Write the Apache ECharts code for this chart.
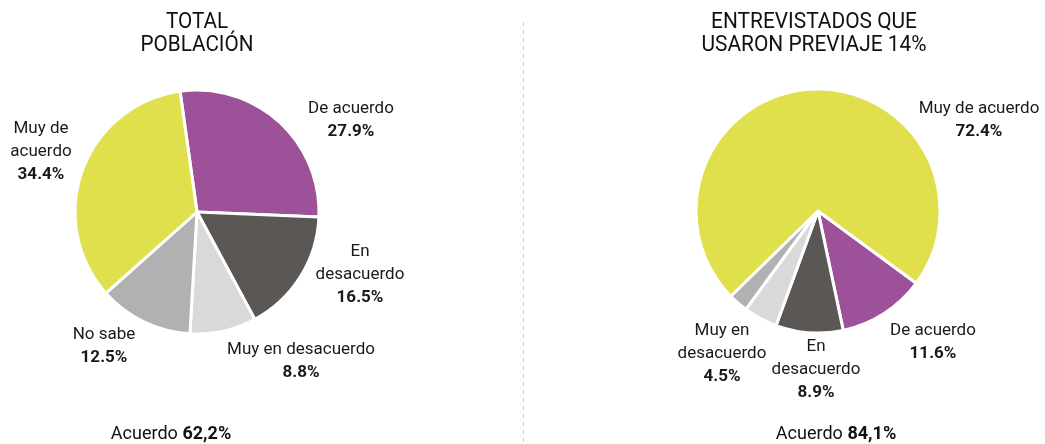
<!DOCTYPE html>
<html>
<head>
<meta charset="utf-8">
<script src="https://cdn.jsdelivr.net/npm/echarts@6/dist/echarts.min.js"></script>
<style>
  html, body { margin: 0; padding: 0; background: #ffffff; }
  #chart { width: 1045px; height: 444px; }
</style>
</head>
<body>
<div id="chart"></div>
<script>
// Opinion categories, in drawing order (clockwise)
const categories = ['De acuerdo', 'En desacuerdo', 'Muy en desacuerdo', 'No sabe', 'Muy de acuerdo'];
// Share of answers (%) for the whole population
const totalValues = [27.9, 16.5, 8.8, 12.5, 34.4];
// Share of answers (%) among respondents who did a "previaje"
const previajeValues = [11.6, 8.9, 4.5, 2.6, 72.4];
// Label text (with line breaks) for each pie
const totalLabelNames = ['De acuerdo', 'En\ndesacuerdo', 'Muy en desacuerdo', 'No sabe', 'Muy de\nacuerdo'];
const previajeLabelNames = ['De acuerdo', 'En\ndesacuerdo', 'Muy en\ndesacuerdo', '', 'Muy de acuerdo'];
// Titles and summary lines
const titles = ['TOTAL\nPOBLACIÓN', 'ENTREVISTADOS QUE\nUSARON PREVIAJE 14%'];
const summaryLabel = 'Acuerdo';
const summaryValues = ['62,2%', '84,1%'];

const colors = {
  'De acuerdo': '#9d5199',
  'En desacuerdo': '#5b5754',
  'Muy en desacuerdo': '#d9d9d9',
  'No sabe': '#b1b1b1',
  'Muy de acuerdo': '#dfe04b'
};

// Label anchor points (centre of each label block) per pie
const labelSpots = [
  { 'De acuerdo': [351, 120], 'En desacuerdo': [360, 275], 'Muy en desacuerdo': [301, 361], 'No sabe': [104, 346], 'Muy de acuerdo': [41, 152] },
  { 'De acuerdo': [933, 342], 'En desacuerdo': [816, 370], 'Muy en desacuerdo': [722, 354], 'No sabe': [760, 330], 'Muy de acuerdo': [979, 120] }
];

const FONT = 'Roboto, "Noto Sans", sans-serif';

function buildData(values, labelNames) {
  return categories.map((c, i) => ({
    name: c,
    value: values[i],
    labelText: labelNames[i],
    itemStyle: { color: colors[c] },
    label: { show: labelNames[i] !== '' }
  }));
}

function pieSeries(idx, values, labelNames, center, startAngle) {
  return {
    type: 'pie',
    center: center,
    radius: [0, 122],
    startAngle: startAngle,
    clockwise: true,
    animation: false,
    silent: true,
    itemStyle: { borderColor: '#ffffff', borderWidth: 3 },
    labelLine: { show: false },
    label: {
      position: 'outside',
      alignTo: 'none',
      overflow: 'none',
      formatter: p => '{n|' + p.data.labelText.split('\n').join('}\n{n|') + '}\n{v|' + p.value.toFixed(1) + '%}',
      rich: {
        n: { fontFamily: FONT, fontSize: 17, color: '#1a1a1a', lineHeight: 23, align: 'center', width: 180 },
        v: { fontFamily: FONT, fontSize: 17, fontWeight: 'bold', color: '#1a1a1a', lineHeight: 23, align: 'center', width: 180 }
      }
    },
    labelLayout: p => {
      const spot = labelSpots[idx][categories[p.dataIndex]];
      return { x: spot[0], y: spot[1], align: 'center', verticalAlign: 'middle' };
    },
    data: buildData(values, labelNames)
  };
}

// Narrow headline text (drawn with a horizontal squeeze)
function headline(text, x, y, size, sx) {
  return {
    type: 'text', x: x, y: y, scaleX: sx, silent: true,
    style: { text: text, fill: '#111', font: 'normal ' + size + 'px ' + FONT, lineHeight: 23,
      align: 'center', verticalAlign: 'middle' }
  };
}

function summary(value, x, y) {
  return {
    type: 'text', x: x, y: y, scaleX: 0.95, silent: true,
    style: {
      text: '{a|' + summaryLabel + ' }{b|' + value + '}', align: 'center', verticalAlign: 'middle',
      rich: {
        a: { fontFamily: FONT, fontSize: 19, fill: '#111' },
        b: { fontFamily: FONT, fontSize: 19, fontWeight: 'bold', fill: '#111' }
      }
    }
  };
}

const chart = echarts.init(document.getElementById('chart'), null, { renderer: 'canvas' });

chart.setOption({
  backgroundColor: '#ffffff',
  graphic: [
    { type: 'line', silent: true, shape: { x1: 523.5, y1: 22, x2: 523.5, y2: 444 },
      style: { stroke: '#d0d0d0', lineWidth: 1, lineDash: [4, 4] } },
    headline(titles[0], 197, 34, 22, 0.94),
    headline(titles[1], 814, 34, 22, 0.95),
    summary(summaryValues[0], 171, 434),
    summary(summaryValues[1], 836, 434)
  ],
  series: [
    pieSeries(0, totalValues, totalLabelNames, [197, 212], 98),
    pieSeries(1, previajeValues, previajeLabelNames, [818, 211], 323.7)
  ]
});
</script>
</body>
</html>
